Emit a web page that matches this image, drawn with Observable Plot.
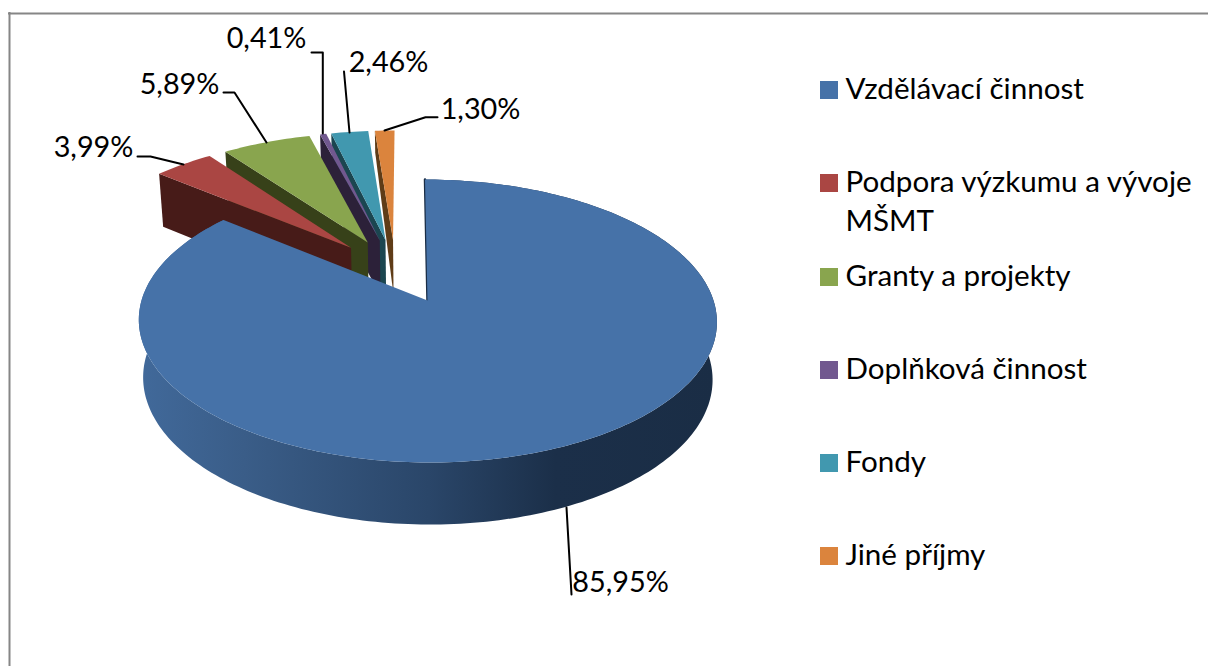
<!DOCTYPE html>
<html><head><meta charset="utf-8">
<style>html,body{margin:0;padding:0;background:#fff;overflow:hidden}svg{display:block}</style>
<script src="https://cdn.jsdelivr.net/npm/d3@7"></script>
<script src="https://cdn.jsdelivr.net/npm/@observablehq/plot@0.6"></script>
</head><body><div id="chart"></div>
<script>
const categories = ["Vzdělávací činnost", "Podpora výzkumu a vývoje", "Granty a projekty", "Doplňková činnost", "Fondy", "Jiné příjmy"];
const legendExtra = "MŠMT";
const shares = [85.95, 3.99, 5.89, 0.41, 2.46, 1.30];
const labels = ["85,95%", "3,99%", "5,89%", "0,41%", "2,46%", "1,30%"];
const topColors = ["#4672a8", "#aa4643", "#89a54e", "#71588f", "#4198af", "#db843d"];
const sideColors = ["#2c4a6e", "#471b18", "#374119", "#2c2139", "#1b4650", "#5f3c17"];

// layout of the projected pie
const W = 1208, H = 666;
const X0 = 427, Y0 = 300, R = 286, AY = 138.5, B = 0.145, SHEAR = 2.5;
const EXPL = 0.24, UC = -0.1025 - 0.012, VC = 0.217 + 0.012, SMALL_R = 1.025;
const FONT = "Lato, 'Open Sans', sans-serif", FS = 28.8, LEGEND_FS = 29.6;
const outerWall = [1, 1, 1, 1, 1, 0.42];

function project(u, v) {
  const d = 1 + B * v;
  return [X0 + R * u / d - SHEAR * v, Y0 - AY * v / d];
}
const lower = ([x, y]) => [X0 + 0.985 * (x - X0), y + 0.03125 * y + 47.6];
const dir = a => [Math.sin(a), Math.cos(a)];

let acc = 0;
const total = d3.sum(shares);
const slices = shares.map((s, i) => {
  const a0 = acc / total * 2 * Math.PI; acc += s;
  const a1 = acc / total * 2 * Math.PI;
  const [mu, mv] = dir((a0 + a1) / 2);
  // slice apex in the plane of the pie; the first slice defines the origin
  const au = i === 0 ? 0 : UC + EXPL * mu;
  const av = i === 0 ? 0 : VC + EXPL * mv;
  const r = i === 0 ? 1 : SMALL_R;
  const steps = Math.max(2, Math.ceil((a1 - a0) / 0.02));
  const rim = d3.range(steps + 1).map(k => {
    const [du, dv] = dir(a0 + (a1 - a0) * k / steps);
    return project(au + r * du, av + r * dv);
  });
  return {i, apex: project(au, av), rim};
});

const poly = (pts, fill) => Plot.line(pts, {x: d => d[0], y: d => d[1], fill, stroke: "none", curve: "linear"});

const gradient = () => {
  const ns = "http://www.w3.org/2000/svg";
  const defs = document.createElementNS(ns, "defs");
  const g = document.createElementNS(ns, "linearGradient");
  g.setAttribute("id", "blueSide");
  g.setAttribute("gradientUnits", "userSpaceOnUse");
  g.setAttribute("x1", 140); g.setAttribute("x2", 716); g.setAttribute("y1", 0); g.setAttribute("y2", 0);
  [[0, "#41699a"], [0.18, "#3a5d88"], [0.5, "#2a4669"], [0.72, "#1b2f49"], [1, "#1a2d45"]].forEach(([o, c]) => {
    const s = document.createElementNS(ns, "stop");
    s.setAttribute("offset", o); s.setAttribute("stop-color", c);
    g.appendChild(s);
  });
  defs.appendChild(g);
  return defs;
};

const marks = [gradient];

// exploded small slices, back to front
for (const i of [5, 4, 3, 2, 1]) {
  const s = slices[i];
  const first = s.rim[0];
  const low = lower(first);
  const f = outerWall[i];
  const lowOuter = [first[0] + f * (low[0] - first[0]), first[1] + f * (low[1] - first[1])];
  marks.push(poly([first, s.apex, lower(s.apex), lowOuter], sideColors[i]));
  marks.push(poly([s.apex, ...s.rim], topColors[i]));
}
// main slice
const b = slices[0];
marks.push(poly([...b.rim, ...b.rim.map(lower).reverse()], "url(#blueSide)"));
marks.push(Plot.line([b.apex, b.rim[0]], {x: d => d[0], y: d => d[1], stroke: "#1a2d45", strokeWidth: 2.5}));
marks.push(poly([b.apex, ...b.rim], topColors[0]));

// leader lines
const leaderPaths = [
  [[566, 507], [571, 594]],
  [[183, 164], [150, 156], [137, 156]],
  [[266, 142], [234, 92], [223, 92]],
  [[322.3, 133], [322.3, 52], [311, 52]],
  [[349, 132], [343.5, 71]],
  [[384, 130], [425, 116.7], [437, 116.7]]
];
leaderPaths.forEach(p => marks.push(Plot.line(p, {x: d => d[0], y: d => d[1], stroke: "#000", strokeWidth: 2})));

// data labels
const labelPos = [[620, 582], [93, 147], [179, 84], [266, 38], [388, 62], [480, 109]];
marks.push(Plot.text(labels, {
  x: (d, i) => labelPos[i][0], y: (d, i) => labelPos[i][1], text: d => d,
  fontSize: FS, fontFamily: FONT, fill: "#000", textAnchor: "middle"
}));

// legend
const legendY = [90, 183, 277, 370, 463, 556];
marks.push(Plot.rect(categories, {
  x1: 820, x2: 838,
  y1: (d, i) => legendY[i] - 9, y2: (d, i) => legendY[i] + 9,
  fill: (d, i) => topColors[i]
}));
marks.push(Plot.text(categories, {
  x: 845, y: (d, i) => legendY[i] - 1, text: d => d,
  fontSize: LEGEND_FS, fontFamily: FONT, fill: "#000", textAnchor: "start"
}));
marks.push(Plot.text([legendExtra], {x: 845, y: 221, text: d => d, fontSize: LEGEND_FS, fontFamily: FONT, fill: "#000", textAnchor: "start"}));

// chart frame
marks.push(Plot.ruleX([9], {y1: 12, y2: H, stroke: "#868686", strokeWidth: 2}));
marks.push(Plot.ruleY([13], {x1: 8, x2: W, stroke: "#868686", strokeWidth: 2}));

const plot = Plot.plot({
  width: W, height: H, margin: 0,
  x: {domain: [0, W], range: [0, W], axis: null},
  y: {domain: [0, H], range: [0, H], axis: null},
  color: {type: "identity"},
  marks
});
document.getElementById("chart").appendChild(plot);
</script></body></html>
